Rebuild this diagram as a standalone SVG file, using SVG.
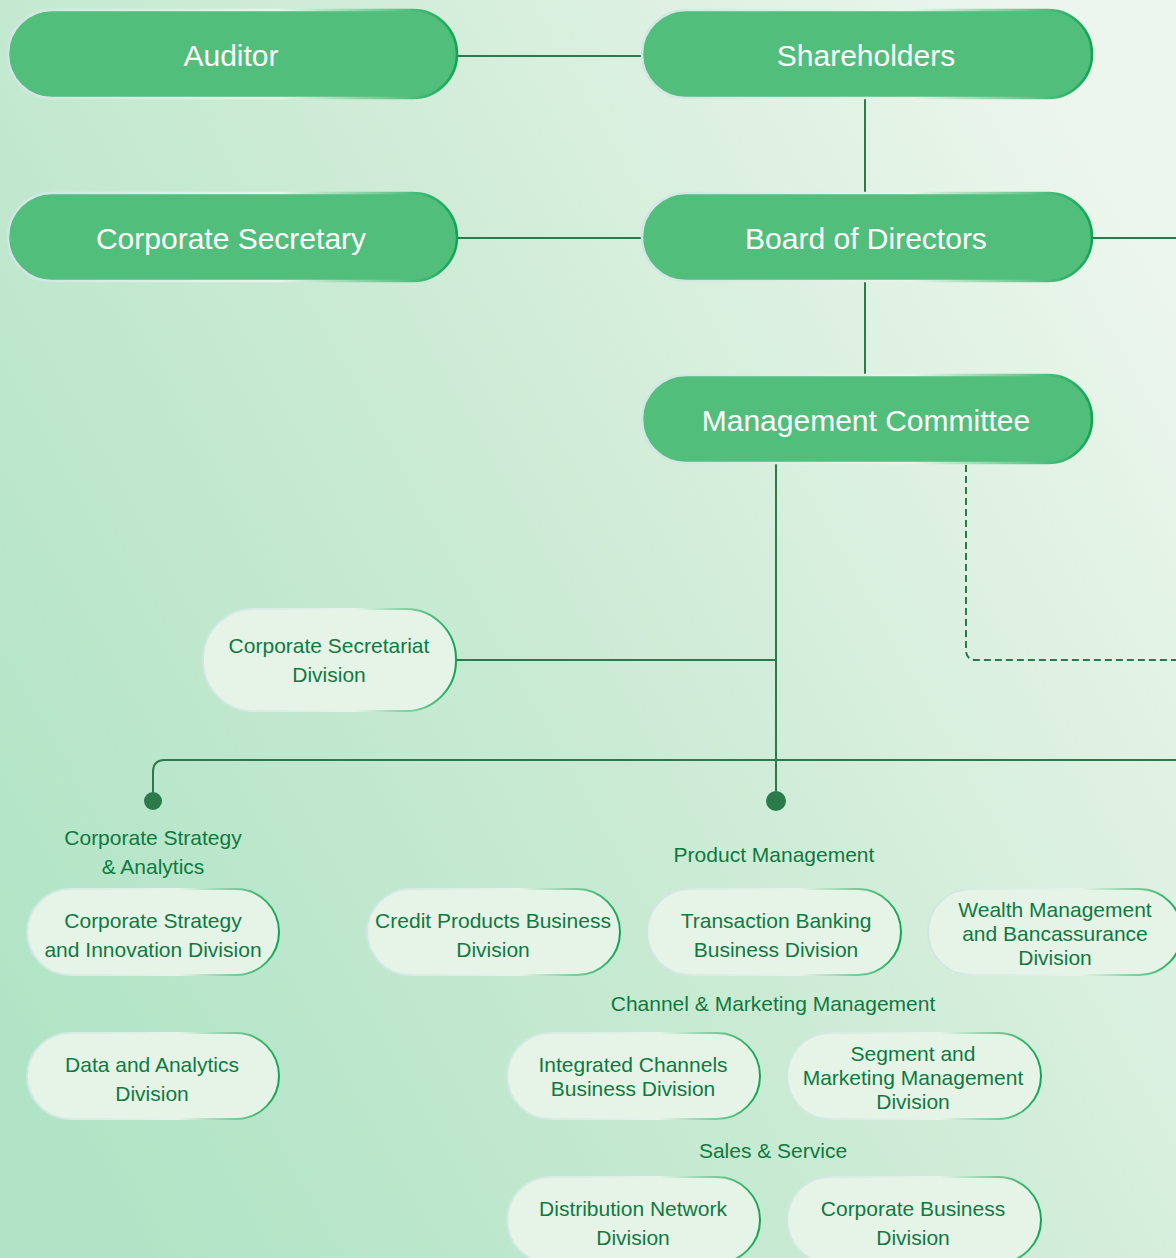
<svg xmlns="http://www.w3.org/2000/svg" width="1176" height="1258" viewBox="0 0 1176 1258">
<defs>
<linearGradient id="bg" x1="0" y1="0.8" x2="1" y2="0.2">
<stop offset="0" stop-color="#b1e4c6"/>
<stop offset="0.45" stop-color="#c9ead3"/>
<stop offset="1" stop-color="#edf6ed"/>
</linearGradient>
<linearGradient id="edge" x1="0" y1="0" x2="1" y2="0">
<stop offset="0" stop-color="#cfe6e2"/>
<stop offset="0.6" stop-color="#e8f4ea"/>
<stop offset="0.85" stop-color="#6cc890"/>
<stop offset="1" stop-color="#0fa555"/>
</linearGradient>
<style>
.main rect{fill:#52be7c;stroke:url(#edge);stroke-width:2.5}
.main text{fill:#ffffff;font-family:"Liberation Sans",Arial,sans-serif;font-size:30px;text-anchor:middle}
.sub rect{fill:#e6f3e7;stroke:url(#edge);stroke-width:2}
.sub text,.lbl{fill:#0e7a3f;font-family:"Liberation Sans",Arial,sans-serif;font-size:21px;text-anchor:middle}
.ln{fill:none;stroke:#2a7a4c;stroke-width:2}
.dash{fill:none;stroke:#2a7a4c;stroke-width:2;stroke-dasharray:7 4}
.dot{fill:#2a7a4c}
</style>
</defs>
<rect width="1176" height="1258" fill="url(#bg)"/>
<g id="connectors">
<path class="ln" d="M457 56H641"/>
<path class="ln" d="M865 98V193"/>
<path class="ln" d="M457 238H641"/>
<path class="ln" d="M1092 238H1176"/>
<path class="ln" d="M865 281V375"/>
<path class="ln" d="M776 463V801"/>
<path class="ln" d="M456 660H776"/>
<path class="ln" d="M1176 760H165Q153 760 153 772V801"/>
<path class="dash" d="M966 465V650Q966 660 976 660H1176"/>
<circle class="dot" cx="776" cy="801" r="10"/>
<circle class="dot" cx="153" cy="801" r="9"/>
</g>
<g id="auditor" class="main"><rect x="8" y="10" width="449" height="88" rx="44"/><text x="231" y="66">Auditor</text></g>
<g id="shareholders" class="main"><rect x="642" y="10" width="450" height="88" rx="44"/><text x="866" y="66">Shareholders</text></g>
<g id="corporate-secretary" class="main"><rect x="8" y="193" width="449" height="88" rx="44"/><text x="231" y="249">Corporate Secretary</text></g>
<g id="board" class="main"><rect x="642" y="193" width="450" height="88" rx="44"/><text x="866" y="249">Board of Directors</text></g>
<g id="management-committee" class="main"><rect x="642" y="375" width="450" height="88" rx="44"/><text x="866" y="431">Management Committee</text></g>

<g id="corp-secretariat" class="sub"><rect x="203" y="609" width="253" height="102" rx="50"/><text x="329" y="653">Corporate Secretariat</text><text x="329" y="682">Division</text></g>

<text id="lbl-csa" class="lbl" x="153" y="845">Corporate Strategy</text>
<text class="lbl" x="153" y="874">&amp; Analytics</text>
<text id="lbl-pm" class="lbl" x="774" y="862">Product Management</text>
<text id="lbl-cmm" class="lbl" x="773" y="1011">Channel &amp; Marketing Management</text>
<text id="lbl-ss" class="lbl" x="773" y="1158">Sales &amp; Service</text>

<g id="csi" class="sub"><rect x="27" y="889" width="252" height="86" rx="43"/><text x="153" y="928">Corporate Strategy</text><text x="153" y="957">and Innovation Division</text></g>
<g id="da" class="sub"><rect x="27" y="1033" width="252" height="86" rx="43"/><text x="152" y="1072">Data and Analytics</text><text x="152" y="1101">Division</text></g>
<g id="cpb" class="sub"><rect x="367" y="889" width="253" height="86" rx="43"/><text x="493" y="928">Credit Products Business</text><text x="493" y="957">Division</text></g>
<g id="tbb" class="sub"><rect x="647" y="889" width="254" height="86" rx="43"/><text x="776" y="928">Transaction Banking</text><text x="776" y="957">Business Division</text></g>
<g id="wmb" class="sub"><rect x="928" y="889" width="254" height="86" rx="43"/><text x="1055" y="917">Wealth Management</text><text x="1055" y="941">and Bancassurance</text><text x="1055" y="965">Division</text></g>
<g id="icb" class="sub"><rect x="507" y="1033" width="253" height="86" rx="43"/><text x="633" y="1072">Integrated Channels</text><text x="633" y="1096">Business Division</text></g>
<g id="smm" class="sub"><rect x="787" y="1033" width="254" height="86" rx="43"/><text x="913" y="1061">Segment and</text><text x="913" y="1085">Marketing Management</text><text x="913" y="1109">Division</text></g>
<g id="dn" class="sub"><rect x="507" y="1177" width="253" height="86" rx="43"/><text x="633" y="1216">Distribution Network</text><text x="633" y="1245">Division</text></g>
<g id="cb" class="sub"><rect x="787" y="1177" width="254" height="86" rx="43"/><text x="913" y="1216">Corporate Business</text><text x="913" y="1245">Division</text></g>
</svg>
